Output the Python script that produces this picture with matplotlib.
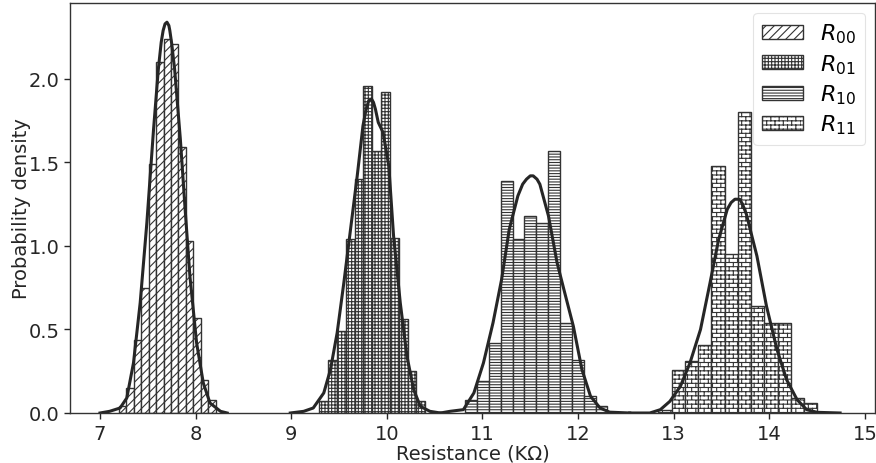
import numpy as np
import matplotlib
matplotlib.use('Agg')
import matplotlib.pyplot as plt
from matplotlib import hatch as mhatch
from matplotlib.path import Path
import warnings

warnings.filterwarnings('ignore')

# ---- data ----
labels = ['$R_{00}$', '$R_{01}$', '$R_{10}$', '$R_{11}$']

edges_00 = [7.197, 7.275, 7.353, 7.430, 7.508, 7.586, 7.664, 7.742, 7.819, 7.897, 7.975, 8.053, 8.131, 8.208]
dens_00 = [0.04, 0.15, 0.44, 0.75, 1.49, 2.10, 2.24, 2.21, 1.59, 1.03, 0.57, 0.20, 0.08]

edges_01 = [9.294, 9.386, 9.478, 9.571, 9.663, 9.755, 9.847, 9.939, 10.032, 10.124, 10.216, 10.308, 10.400]
dens_01 = [0.07, 0.32, 0.49, 1.04, 1.40, 1.96, 1.57, 1.92, 1.05, 0.56, 0.25, 0.07]

edges_10 = [10.818, 10.942, 11.066, 11.190, 11.314, 11.438, 11.562, 11.686, 11.810, 11.934, 12.058, 12.182, 12.306]
dens_10 = [0.08, 0.19, 0.42, 1.39, 1.04, 1.18, 1.14, 1.57, 0.54, 0.32, 0.10, 0.04]

edges_11 = [12.840, 12.979, 13.117, 13.256, 13.394, 13.533, 13.672, 13.810, 13.949, 14.088, 14.226, 14.365, 14.503]
dens_11 = [0.02, 0.26, 0.31, 0.41, 1.48, 0.95, 1.80, 0.64, 0.54, 0.54, 0.09, 0.06]

# density curves (read point by point)
kde_x_00 = [7.00, 7.10, 7.21, 7.28, 7.35, 7.42, 7.49, 7.56, 7.61, 7.64, 7.66, 7.68, 7.70, 7.72, 7.73, 7.75, 7.78, 7.84, 7.89, 7.94, 8.01, 8.08, 8.15, 8.26, 8.33]
kde_y_00 = [0.0, 0.01, 0.03, 0.09, 0.30, 0.66, 1.14, 1.70, 2.06, 2.22, 2.29, 2.33, 2.34, 2.32, 2.29, 2.21, 2.06, 1.64, 1.22, 0.82, 0.42, 0.18, 0.06, 0.01, 0.0]

kde_x_01 = [8.99, 9.13, 9.23, 9.34, 9.41, 9.48, 9.55, 9.62, 9.69, 9.75, 9.78, 9.81, 9.84, 9.86, 9.88, 9.91, 9.96, 10.02, 10.07, 10.14, 10.21, 10.28, 10.35, 10.45, 10.56]
kde_y_01 = [0.0, 0.01, 0.03, 0.12, 0.26, 0.48, 0.78, 1.10, 1.42, 1.72, 1.81, 1.87, 1.88, 1.86, 1.82, 1.74, 1.68, 1.48, 1.06, 0.66, 0.34, 0.14, 0.04, 0.01, 0.0]

kde_x_10 = [10.56, 10.66, 10.80, 10.91, 11.01, 11.11, 11.20, 11.28, 11.37, 11.42, 11.46, 11.50, 11.53, 11.57, 11.60, 11.69, 11.78, 11.86, 11.95, 12.04, 12.13, 12.23, 12.33, 12.54]
kde_y_10 = [0.0, 0.01, 0.02, 0.12, 0.30, 0.54, 0.80, 1.10, 1.30, 1.37, 1.40, 1.42, 1.42, 1.40, 1.37, 1.18, 0.90, 0.72, 0.52, 0.26, 0.10, 0.03, 0.005, 0.0]

kde_x_11 = [12.54, 12.75, 12.86, 12.96, 13.07, 13.17, 13.28, 13.38, 13.47, 13.56, 13.60, 13.64, 13.69, 13.72, 13.76, 13.87, 13.97, 14.08, 14.18, 14.29, 14.39, 14.50, 14.74]
kde_y_11 = [0.0, 0.0, 0.02, 0.07, 0.16, 0.30, 0.50, 0.78, 1.04, 1.22, 1.26, 1.28, 1.28, 1.25, 1.19, 0.94, 0.64, 0.38, 0.20, 0.08, 0.02, 0.004, 0.0]

xticks = [7, 8, 9, 10, 11, 12, 13, 14, 15]
yticks = [0.0, 0.5, 1.0, 1.5, 2.0]


# brick hatch for R11 ('b' in the hatch string)
class BrickHatch(mhatch.HatchPatternBase):
    bricks = 12  # bricks per row in one hatch tile

    def __init__(self, hatch, density):
        self.num_rows = hatch.count('b') * density
        if self.num_rows % 2:
            self.num_rows += 1
        self.num_vertices = self.num_rows * (2 + 2 * self.bricks)
        if self.num_rows:
            self.num_vertices += 2

    def set_vertices_and_codes(self, vertices, codes):
        n = self.num_rows
        m = self.bricks
        k = 0
        for i in range(n):
            y0 = i / n
            y1 = (i + 1) / n
            vertices[k] = (0.0, y0)
            vertices[k + 1] = (1.0, y0)
            codes[k] = Path.MOVETO
            codes[k + 1] = Path.LINETO
            k += 2
            off = 0.0 if i % 2 == 0 else 0.5 / m
            for j in range(m):
                xv = j / m + off
                vertices[k] = (xv, y0)
                vertices[k + 1] = (xv, y1)
                codes[k] = Path.MOVETO
                codes[k + 1] = Path.LINETO
                k += 2
        vertices[k] = (0.0, 1.0)
        vertices[k + 1] = (1.0, 1.0)
        codes[k] = Path.MOVETO
        codes[k + 1] = Path.LINETO


mhatch._hatch_types.append(BrickHatch)

plt.rcParams['font.family'] = ['DejaVu Sans']
plt.rcParams['hatch.linewidth'] = 0.8
plt.rcParams['mathtext.fontset'] = 'dejavusans'

text_col = '#262626'
edge_col = '#333333'

fig = plt.figure(figsize=(8.76, 4.64), dpi=100)
ax = fig.add_axes([70 / 876, 50 / 464, 805 / 876, 410 / 464])

hatches = ['////', '+++++', '------', 'bbbb']
all_edges = [edges_00, edges_01, edges_10, edges_11]
all_dens = [dens_00, dens_01, dens_10, dens_11]
for e, d, h, lab in zip(all_edges, all_dens, hatches, labels):
    e = np.array(e)
    ax.bar(e[:-1], d, width=np.diff(e), align='edge', facecolor='white',
           edgecolor=edge_col, linewidth=1.0, hatch=h, label=lab)

for kx, ky in [(kde_x_00, kde_y_00), (kde_x_01, kde_y_01),
               (kde_x_10, kde_y_10), (kde_x_11, kde_y_11)]:
    ax.plot(kx, ky, color='#262626', linewidth=2.2, solid_joinstyle='round')

ax.set_xlim(6.686, 15.105)
ax.set_ylim(0, 2.455)
ax.set_xticks(xticks)
ax.set_yticks(yticks)
ax.tick_params(labelsize=14, colors=text_col, length=4, width=1)
ax.tick_params(axis='x', pad=4)
for s in ax.spines.values():
    s.set_color('#333333')
    s.set_linewidth(1.0)

ax.set_xlabel('Resistance (K\u03a9)', fontsize=14, color=text_col, labelpad=0)
ax.set_ylabel('Probability density', fontsize=14, color=text_col, labelpad=-2)

leg = ax.legend(loc='upper right', fontsize=16, frameon=True, fancybox=True,
                handlelength=1.85, handleheight=0.6, borderpad=0.4,
                labelspacing=0.3, handletextpad=0.75, borderaxespad=0.45)
leg.get_frame().set_edgecolor('#dddddd')
leg.get_frame().set_linewidth(0.8)

fig.savefig('out.png', dpi=100)
